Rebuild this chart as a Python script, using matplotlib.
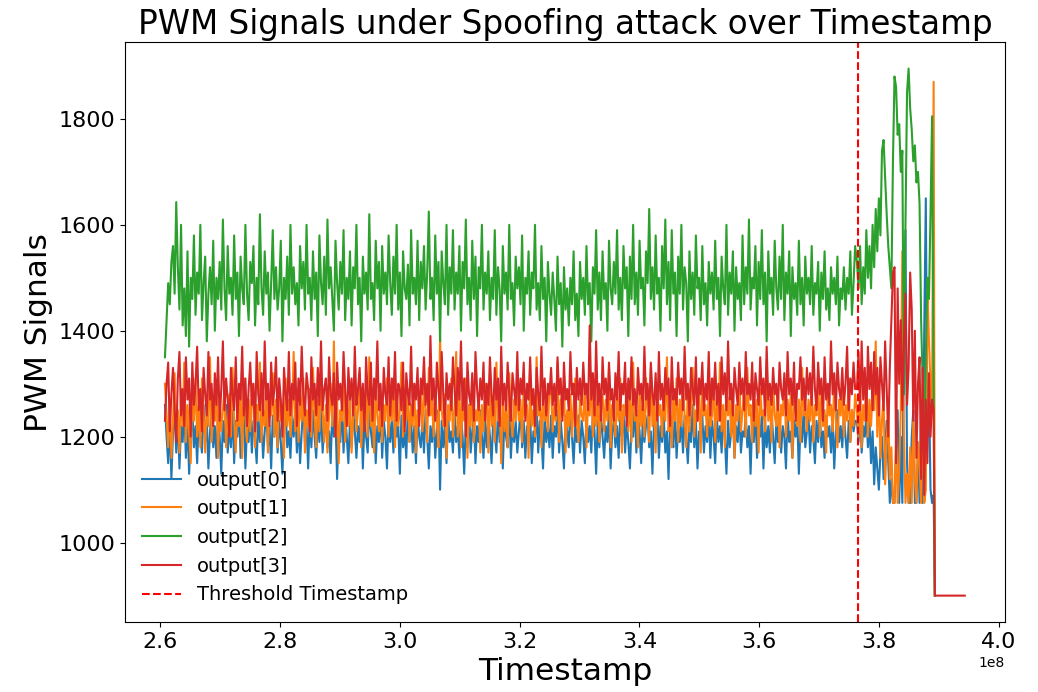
import numpy as np
import matplotlib.pyplot as plt

# sampling windows (timestamps): steady flight, attack phase, idle tail
pre_start, pre_end = 2.608e8, 3.760e8
post_start, post_end = 3.763e8, 3.891e8
drop_t = 3.893e8
tail_end_t = 3.943e8
idle_val = 900
threshold_ts = 3.765e8

# output[0]
out0_pre = [
    1260, 1200, 1150, 1230, 1120, 1210, 1250, 1170, 1240, 1140, 1220, 1190, 1260, 1160, 1230, 1130, 1200, 1250, 1180, 1220,
    1150, 1240, 1200, 1170, 1260, 1190, 1230, 1140, 1210, 1250, 1180, 1220, 1160, 1240, 1200, 1130, 1230, 1190, 1260, 1170,
    1220, 1180, 1250, 1150, 1230, 1200, 1260, 1160, 1210, 1240, 1140, 1220, 1190, 1250, 1170, 1230, 1200, 1150, 1240, 1190,
    1230, 1160, 1210, 1250, 1180, 1220, 1140, 1240, 1200, 1260, 1170, 1230, 1190, 1130, 1220, 1250, 1180, 1210, 1160, 1240,
    1200, 1250, 1170, 1230, 1150, 1210, 1260, 1190, 1220, 1140, 1240, 1180, 1250, 1200, 1160, 1230, 1190, 1260, 1170, 1220,
    1240, 1180, 1210, 1150, 1250, 1200, 1230, 1120, 1220, 1190, 1260, 1170, 1240, 1200, 1150, 1230, 1180, 1250, 1210, 1160,
    1220, 1190, 1250, 1140, 1230, 1200, 1170, 1260, 1210, 1180, 1240, 1150, 1220, 1190, 1250, 1160, 1230, 1200, 1140, 1240,
    1190, 1230, 1170, 1250, 1200, 1220, 1130, 1240, 1180, 1210, 1160, 1260, 1190, 1230, 1170, 1220, 1150, 1240, 1200, 1180,
    1230, 1170, 1250, 1200, 1140, 1220, 1190, 1240, 1160, 1210, 1250, 1100, 1230, 1180, 1220, 1150, 1240, 1190, 1210, 1170,
    1250, 1190, 1220, 1160, 1240, 1200, 1130, 1230, 1180, 1260, 1170, 1210, 1240, 1150, 1220, 1190, 1250, 1200, 1160, 1230,
    1180, 1240, 1200, 1150, 1230, 1210, 1170, 1250, 1190, 1220, 1140, 1240, 1200, 1180, 1260, 1160, 1220, 1190, 1230, 1170,
    1210, 1250, 1180, 1230, 1160, 1220, 1200, 1240, 1150, 1210, 1190, 1260, 1170, 1230, 1200, 1140, 1240, 1190, 1220, 1180,
    1240, 1160, 1220, 1200, 1250, 1170, 1230, 1190, 1140, 1240, 1210, 1180, 1260, 1200, 1150, 1220, 1190, 1240, 1170, 1230,
    1200, 1150, 1240, 1190, 1220, 1170, 1250, 1210, 1130, 1230, 1180, 1240, 1200, 1160, 1220, 1190, 1250, 1140, 1210, 1230,
    1180, 1220, 1160, 1240, 1200, 1250, 1170, 1230, 1190, 1140, 1220, 1200, 1260, 1170, 1240, 1210, 1150, 1230, 1190, 1220,
    1240, 1180, 1210, 1130, 1230, 1200, 1250, 1160, 1220, 1190, 1240, 1170, 1210, 1120, 1230, 1200, 1180, 1250, 1160, 1220,
    1190, 1230, 1170, 1240, 1200, 1150, 1220, 1190, 1260, 1180, 1230, 1140, 1210, 1200, 1240, 1170, 1220, 1190, 1250, 1160,
    1230, 1200, 1150, 1240, 1190, 1220, 1170, 1250, 1200, 1130, 1230, 1180, 1210, 1240, 1160, 1220, 1190, 1250, 1170, 1210,
    1200, 1240, 1180, 1220, 1130, 1230, 1190, 1250, 1160, 1210, 1200, 1240, 1140, 1230, 1180, 1220, 1170, 1250, 1200, 1150,
    1230, 1190, 1240, 1170, 1220, 1200, 1140, 1250, 1190, 1210, 1160, 1230, 1200, 1240, 1130, 1220, 1190, 1250, 1180, 1210,
    1240, 1170, 1220, 1200, 1150, 1230, 1190, 1250, 1180, 1210, 1160, 1240, 1200, 1220, 1170, 1230, 1140, 1210, 1250, 1190,
    1220, 1180, 1240, 1200, 1160, 1230, 1190, 1250, 1210, 1230,
]
out0_post = [
    1230, 1190, 1250, 1170, 1220, 1200, 1240, 1180, 1230, 1150, 1210, 1110, 1180, 1140, 1100, 1170, 1200, 1120, 1180, 1230,
    1150, 1075, 1120, 1075, 1075, 1180, 1250, 1075, 1200, 1075, 1400, 1590, 1150, 1075, 1075, 1200, 1250, 1075, 1075, 1180,
    1075, 1250, 1075, 1400, 1650, 1200, 1300, 1100, 1075, 1090,
]

# output[1]
out1_pre = [
    1300, 1240, 1180, 1270, 1160, 1230, 1320, 1200, 1250, 1170, 1290, 1220, 1340, 1190, 1260, 1210, 1150, 1280, 1230, 1310,
    1200, 1260, 1180, 1310, 1240, 1170, 1270, 1220, 1350, 1190, 1250, 1230, 1300, 1160, 1270, 1210, 1250, 1290, 1180, 1240,
    1280, 1200, 1330, 1230, 1170, 1260, 1220, 1290, 1160, 1310, 1240, 1190, 1270, 1210, 1300, 1250, 1180, 1260, 1230, 1340,
    1190, 1250, 1220, 1300, 1170, 1260, 1240, 1320, 1200, 1270, 1180, 1290, 1230, 1250, 1160, 1310, 1220, 1270, 1200, 1240,
    1360, 1210, 1260, 1190, 1280, 1230, 1310, 1170, 1250, 1220, 1290, 1200, 1330, 1240, 1180, 1270, 1210, 1300, 1250, 1190,
    1260, 1170, 1240, 1300, 1220, 1380, 1200, 1270, 1150, 1250, 1230, 1310, 1190, 1260, 1220, 1280, 1170, 1240, 1300, 1210,
    1250, 1320, 1180, 1260, 1230, 1290, 1200, 1350, 1220, 1250, 1170, 1300, 1240, 1210, 1270, 1190, 1260, 1230, 1310, 1200,
    1270, 1230, 1310, 1180, 1280, 1220, 1250, 1340, 1200, 1270, 1230, 1290, 1190, 1260, 1220, 1300, 1170, 1250, 1240, 1280,
    1210, 1300, 1250, 1190, 1330, 1240, 1270, 1200, 1290, 1230, 1180, 1390, 1250, 1220, 1280, 1160, 1260, 1230, 1310, 1200,
    1240, 1360, 1200, 1290, 1180, 1270, 1230, 1310, 1160, 1260, 1220, 1300, 1190, 1250, 1230, 1280, 1170, 1260, 1210, 1300,
    1280, 1170, 1300, 1220, 1260, 1190, 1340, 1230, 1270, 1150, 1290, 1210, 1250, 1180, 1320, 1240, 1200, 1270, 1230, 1290,
    1230, 1270, 1190, 1300, 1240, 1260, 1160, 1310, 1220, 1250, 1200, 1350, 1240, 1270, 1180, 1290, 1230, 1260, 1210, 1300,
    1290, 1210, 1260, 1230, 1340, 1190, 1270, 1240, 1300, 1170, 1250, 1220, 1280, 1200, 1260, 1310, 1230, 1190, 1270, 1240,
    1230, 1300, 1180, 1270, 1240, 1320, 1200, 1260, 1220, 1290, 1190, 1250, 1280, 1210, 1270, 1230, 1330, 1180, 1260, 1240,
    1200, 1280, 1230, 1310, 1170, 1260, 1240, 1300, 1210, 1270, 1190, 1340, 1230, 1250, 1180, 1290, 1220, 1260, 1200, 1310,
    1250, 1190, 1330, 1220, 1270, 1170, 1300, 1240, 1260, 1200, 1290, 1230, 1350, 1210, 1250, 1180, 1280, 1230, 1310, 1190,
    1270, 1220, 1300, 1240, 1180, 1290, 1210, 1260, 1330, 1200, 1250, 1230, 1280, 1170, 1310, 1240, 1260, 1200, 1290, 1220,
    1240, 1310, 1190, 1270, 1230, 1340, 1210, 1260, 1180, 1300, 1240, 1270, 1200, 1290, 1160, 1260, 1230, 1320, 1210, 1250,
    1280, 1200, 1330, 1240, 1260, 1190, 1300, 1220, 1270, 1170, 1290, 1240, 1250, 1210, 1340, 1230, 1270, 1190, 1300, 1240,
    1220, 1290, 1180, 1260, 1240, 1310, 1200, 1270, 1230, 1280, 1160, 1300, 1250, 1220, 1270, 1190, 1330, 1240, 1260, 1210,
    1270, 1230, 1300, 1190, 1260, 1240, 1320, 1200, 1280, 1220, 1250, 1170, 1290, 1240, 1260, 1210, 1300, 1230, 1180, 1270,
    1240, 1290, 1200, 1260, 1230, 1310, 1190, 1250, 1220, 1280,
]
out1_post = [
    1250, 1200, 1290, 1180, 1260, 1230, 1310, 1200, 1270, 1220, 1290, 1250, 1380, 1200, 1300, 1160, 1230, 1280, 1110, 1190,
    1250, 1120, 1180, 1075, 1075, 1200, 1075, 1140, 1250, 1550, 1200, 1075, 1130, 1075, 1180, 1075, 1230, 1120, 1075, 1190,
    1150, 1075, 1300, 1075, 1100, 1480, 1380, 1300, 1250, 1870,
]

# output[2]
out2_pre = [
    1350, 1420, 1490, 1450, 1530, 1560, 1470, 1643, 1520, 1440, 1600, 1410, 1480, 1390, 1550, 1370, 1500, 1460, 1580, 1430,
    1510, 1470, 1600, 1420, 1490, 1540, 1380, 1470, 1520, 1450, 1570, 1400, 1500, 1460, 1530, 1440, 1610, 1480, 1420, 1560,
    1470, 1500, 1430, 1580, 1460, 1510, 1390, 1540, 1480, 1450, 1600, 1470, 1420, 1530, 1490, 1560, 1410, 1500, 1450, 1620,
    1480, 1430, 1550, 1470, 1510, 1400, 1490, 1590, 1460, 1520, 1440, 1480, 1570, 1380, 1500, 1460, 1540, 1430, 1600, 1470,
    1520, 1450, 1490, 1410, 1560, 1480, 1530, 1440, 1600, 1470, 1500, 1420, 1550, 1460, 1510, 1390, 1580, 1490, 1450, 1540,
    1430, 1610, 1480, 1520, 1460, 1400, 1570, 1490, 1440, 1530, 1470, 1590, 1420, 1500, 1460, 1550, 1410, 1520, 1480, 1600,
    1450, 1500, 1380, 1540, 1470, 1510, 1440, 1620, 1460, 1490, 1420, 1570, 1480, 1530, 1400, 1560, 1470, 1510, 1450, 1580,
    1490, 1430, 1540, 1470, 1600, 1440, 1510, 1390, 1550, 1480, 1460, 1525, 1410, 1590, 1470, 1500, 1450, 1570, 1420, 1530,
    1480, 1560, 1440, 1510, 1625, 1460, 1500, 1420, 1580, 1470, 1530, 1380, 1550, 1490, 1450, 1600, 1430, 1520, 1470, 1590,
    1440, 1510, 1470, 1560, 1400, 1530, 1480, 1610, 1450, 1500, 1420, 1570, 1460, 1540, 1390, 1520, 1480, 1600, 1440, 1510,
    1470, 1550, 1420, 1500, 1460, 1590, 1430, 1520, 1480, 1380, 1560, 1470, 1510, 1440, 1600, 1460, 1490, 1410, 1540, 1480,
    1520, 1450, 1580, 1400, 1500, 1470, 1550, 1430, 1510, 1480, 1600, 1440, 1490, 1420, 1560, 1460, 1500, 1380, 1530, 1470,
    1430, 1510, 1460, 1400, 1540, 1450, 1490, 1370, 1520, 1440, 1480, 1410, 1500, 1450, 1550, 1420, 1470, 1390, 1530, 1460,
    1500, 1430, 1560, 1450, 1490, 1380, 1520, 1470, 1590, 1440, 1510, 1420, 1550, 1460, 1490, 1400, 1570, 1480, 1450, 1530,
    1470, 1590, 1440, 1500, 1420, 1560, 1480, 1520, 1390, 1540, 1460, 1600, 1450, 1510, 1430, 1570, 1480, 1500, 1410, 1550,
    1490, 1630, 1460, 1520, 1440, 1580, 1470, 1500, 1400, 1560, 1480, 1610, 1450, 1530, 1420, 1590, 1470, 1510, 1390, 1540,
    1470, 1600, 1440, 1520, 1490, 1380, 1550, 1460, 1510, 1430, 1580, 1480, 1500, 1420, 1560, 1450, 1490, 1410, 1530, 1470,
    1510, 1440, 1570, 1460, 1500, 1390, 1540, 1480, 1450, 1600, 1430, 1510, 1470, 1550, 1400, 1520, 1460, 1490, 1420, 1580,
    1450, 1520, 1470, 1610, 1440, 1500, 1480, 1560, 1410, 1530, 1460, 1590, 1450, 1510, 1380, 1550, 1470, 1500, 1430, 1570,
    1480, 1440, 1540, 1460, 1600, 1420, 1510, 1470, 1550, 1390, 1520, 1460, 1490, 1430, 1570, 1450, 1500, 1410, 1540, 1470,
    1500, 1450, 1560, 1430, 1490, 1470, 1530, 1400, 1510, 1460, 1550, 1440, 1480, 1420, 1520, 1470, 1500, 1450, 1540, 1410,
    1480, 1460, 1520, 1440, 1500, 1470, 1550, 1430, 1490, 1560,
]
out2_post = [
    1530, 1480, 1560, 1450, 1520, 1470, 1590, 1500, 1560, 1480, 1600, 1520, 1630, 1550, 1650, 1580, 1740, 1760, 1690, 1620,
    1560, 1520, 1480, 1720, 1880, 1860, 1770, 1790, 1700, 1740, 1280, 1600, 1850, 1895, 1820, 1780, 1720, 1750, 1680, 1700,
    1640, 1420, 1300, 1180, 1350, 1500, 1460, 1620, 1805, 1290,
]

# output[3]
out3_pre = [
    1230, 1300, 1340, 1210, 1280, 1330, 1250, 1190, 1310, 1360, 1240, 1290, 1220, 1350, 1270, 1310, 1200, 1340, 1260, 1300,
    1370, 1250, 1290, 1210, 1330, 1280, 1240, 1360, 1270, 1300, 1220, 1320, 1260, 1350, 1230, 1290, 1380, 1250, 1310, 1270,
    1200, 1330, 1280, 1250, 1350, 1230, 1300, 1270, 1370, 1240, 1310, 1220, 1290, 1340, 1260, 1300, 1210, 1360, 1280, 1250,
    1320, 1240, 1380, 1270, 1300, 1220, 1340, 1260, 1290, 1350, 1230, 1310, 1270, 1200, 1330, 1280, 1250, 1360, 1240, 1300,
    1270, 1340, 1220, 1310, 1260, 1370, 1280, 1240, 1320, 1290, 1210, 1350, 1270, 1300, 1240, 1330, 1260, 1380, 1250, 1290,
    1310, 1230, 1350, 1280, 1260, 1320, 1200, 1340, 1270, 1300, 1250, 1360, 1290, 1220, 1330, 1270, 1310, 1240, 1370, 1260,
    1290, 1330, 1250, 1300, 1210, 1350, 1280, 1260, 1340, 1230, 1310, 1270, 1380, 1250, 1300, 1220, 1330, 1280, 1260, 1350,
    1240, 1310, 1270, 1360, 1230, 1300, 1290, 1250, 1340, 1210, 1320, 1280, 1260, 1370, 1240, 1300, 1270, 1330, 1220, 1310,
    1280, 1350, 1260, 1300, 1240, 1390, 1270, 1310, 1230, 1340, 1290, 1250, 1360, 1280, 1220, 1320, 1270, 1300, 1250, 1350,
    1290, 1240, 1330, 1270, 1380, 1250, 1310, 1200, 1340, 1280, 1260, 1320, 1230, 1360, 1290, 1250, 1310, 1270, 1340, 1230,
    1300, 1260, 1350, 1280, 1240, 1330, 1270, 1310, 1220, 1370, 1260, 1300, 1250, 1340, 1280, 1230, 1320, 1290, 1260, 1360,
    1250, 1310, 1280, 1340, 1230, 1300, 1270, 1350, 1260, 1290, 1220, 1330, 1280, 1250, 1370, 1260, 1310, 1240, 1300, 1280,
    1330, 1260, 1300, 1240, 1350, 1280, 1310, 1230, 1340, 1270, 1290, 1250, 1360, 1280, 1300, 1220, 1330, 1270, 1310, 1260,
    1340, 1280, 1300, 1250, 1410, 1270, 1320, 1240, 1380, 1260, 1300, 1230, 1350, 1280, 1310, 1250, 1340, 1270, 1290, 1230,
    1320, 1270, 1360, 1250, 1300, 1280, 1340, 1220, 1310, 1270, 1350, 1260, 1290, 1240, 1330, 1280, 1300, 1250, 1370, 1270,
    1300, 1240, 1340, 1280, 1260, 1320, 1230, 1360, 1270, 1300, 1250, 1330, 1280, 1310, 1220, 1350, 1270, 1290, 1260, 1340,
    1280, 1310, 1250, 1370, 1270, 1300, 1240, 1330, 1290, 1260, 1350, 1230, 1310, 1280, 1340, 1250, 1300, 1270, 1360, 1240,
    1310, 1270, 1340, 1260, 1300, 1230, 1350, 1280, 1320, 1250, 1380, 1270, 1300, 1240, 1330, 1290, 1260, 1340, 1280, 1310,
    1250, 1360, 1280, 1300, 1270, 1340, 1230, 1320, 1290, 1260, 1350, 1280, 1310, 1240, 1370, 1270, 1300, 1260, 1330, 1280,
    1300, 1250, 1340, 1290, 1270, 1320, 1240, 1360, 1280, 1310, 1260, 1340, 1230, 1300, 1290, 1350, 1270, 1310, 1250, 1330,
    1280, 1320, 1260, 1370, 1290, 1250, 1340, 1280, 1310, 1230, 1350, 1270, 1300, 1260, 1380, 1280, 1320, 1250, 1340, 1290,
    1270, 1330, 1260, 1300, 1370, 1250, 1310, 1280, 1340, 1290,
]
out3_post = [
    1290, 1360, 1250, 1380, 1270, 1330, 1230, 1370, 1290, 1340, 1250, 1360, 1280, 1330, 1240, 1350, 1300, 1250, 1380, 1290,
    1200, 1330, 1420, 1510, 1520, 1150, 1480, 1300, 1420, 1250, 1380, 1470, 1260, 1330, 1510, 1440, 1230, 1400, 1160, 1300,
    1350, 1120, 1330, 1090, 1270, 1150, 1320, 1200, 1270, 1250,
]

series = [
    ('output[0]', out0_pre, out0_post, False),
    ('output[1]', out1_pre, out1_post, False),
    ('output[2]', out2_pre, out2_post, False),
    ('output[3]', out3_pre, out3_post, True),
]

fig = plt.figure(figsize=(10.38, 6.92), dpi=100)
ax = fig.add_axes([0.1204, 0.1012, 0.8476, 0.8378])

for name, pre, post, idle_tail in series:
    t = np.concatenate([np.linspace(pre_start, pre_end, len(pre)),
                        np.linspace(post_start, post_end, len(post)), [drop_t]])
    v = pre + post + [idle_val]
    if idle_tail:
        t = np.append(t, tail_end_t)
        v = v + [idle_val]
    ax.plot(t, v, label=name)

ax.axvline(threshold_ts, color='red', linestyle='--', label='Threshold Timestamp')

ax.set_title('PWM Signals under Spoofing attack over Timestamp', fontsize=23.5)
ax.set_xlabel('Timestamp', fontsize=22.5)
ax.set_ylabel('PWM Signals', fontsize=22.5)
ax.tick_params(labelsize=16)
ax.legend(loc='lower left', fontsize=14, frameon=False)

plt.savefig('out.png', dpi=100)
